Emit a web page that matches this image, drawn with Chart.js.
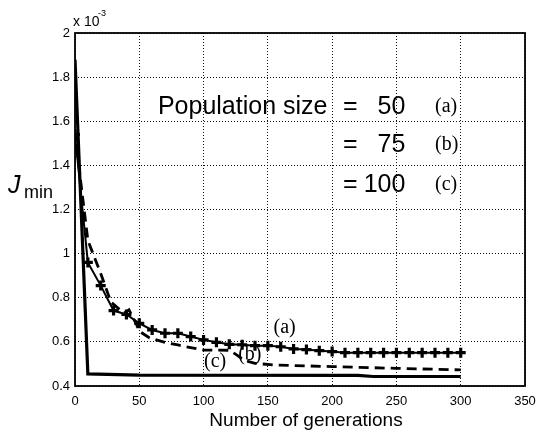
<!DOCTYPE html>
<html>
<head>
<meta charset="utf-8">
<script src="https://cdn.jsdelivr.net/npm/chart.js@4.4.1/dist/chart.umd.min.js"></script>
<style>
  html, body { margin: 0; padding: 0; background: #fff; }
  #wrap { position: relative; width: 536px; height: 436px; }
</style>
</head>
<body>
<div id="wrap"><canvas id="chart" width="536" height="436"></canvas></div>
<script>
// J_min values are in units of 1e-3 (axis carries the "x 10^-3" factor)

// (a) population size 50, plus markers every 10 generations
const gensA = [0, 10, 20, 30, 40, 50, 60, 70, 80, 90, 100, 110, 120, 130, 140, 150,
               160, 170, 180, 190, 200, 210, 220, 230, 240, 250, 260, 270, 280, 290, 300];
const jminA = [1.54, 0.96, 0.855, 0.742, 0.724, 0.684, 0.654, 0.639, 0.639, 0.624, 0.609,
               0.598, 0.589, 0.587, 0.583, 0.583, 0.578, 0.568, 0.565, 0.560, 0.556,
               0.551, 0.551, 0.551, 0.551, 0.551, 0.551, 0.551, 0.551, 0.551, 0.551];

// (b) population size 75, dashed
const gensB = [0, 5, 10, 20, 28, 38, 42, 48, 50, 58, 70, 80, 90, 100, 120, 126, 132, 140, 155, 200, 250, 300];
const jminB = [1.55, 1.30, 1.06, 0.91, 0.78, 0.73, 0.745, 0.677, 0.648, 0.618, 0.598, 0.586,
               0.574, 0.563, 0.562, 0.54, 0.515, 0.503, 0.495, 0.488, 0.480, 0.473];

// (c) population size 100, thick solid
const gensC = [0, 10, 50, 220, 232, 300];
const jminC = [1.88, 0.455, 0.449, 0.448, 0.443, 0.443];

const xTicks = [0, 50, 100, 150, 200, 250, 300, 350];
const yTicks = [0.4, 0.6, 0.8, 1, 1.2, 1.4, 1.6, 1.8, 2];

const legendRows = [
    { eq: '=', size: '50', tag: '(a)' },
    { eq: '=', size: '75', tag: '(b)' },
    { eq: '=', size: '100', tag: '(c)' }
];
const curveTags = [
    { text: '(a)', x: 163, y: 0.663 },
    { text: '(b)', x: 136, y: 0.541 },
    { text: '(c)', x: 109, y: 0.509 }
];

const SANS = '"Liberation Sans", Arial, sans-serif';
const SERIF = '"Liberation Serif", "Times New Roman", serif';

const toPoints = (xs, ys) => xs.map((x, i) => ({ x, y: ys[i] }));

// frame box + all the free text (MATLAB style)
const decorations = {
    id: 'decorations',
    afterDraw(chart) {
        const { ctx, chartArea: a, scales: { x, y } } = chart;
        ctx.save();

        ctx.strokeStyle = '#000';
        ctx.lineWidth = 1.8;
        ctx.strokeRect(a.left, a.top, a.right - a.left, a.bottom - a.top);

        ctx.fillStyle = '#000';
        ctx.textBaseline = 'middle';

        // exponent label
        ctx.textAlign = 'left';
        ctx.font = '14px ' + SANS;
        ctx.fillText('x 10', a.left - 2, 22);
        ctx.font = '9px ' + SANS;
        ctx.fillText('-3', a.left + 23, 14);

        // y title J_min
        ctx.font = 'italic 25px ' + SANS;
        ctx.fillText('J', 8, 186);
        ctx.font = '18px ' + SANS;
        ctx.fillText('min', 24, 193);

        // x title
        ctx.textAlign = 'center';
        ctx.font = '19px ' + SANS;
        ctx.fillText('Number of generations', 306, 421);

        // population size block
        const rowY = [1.665, 1.492, 1.311];
        ctx.font = '25px ' + SANS;
        ctx.textAlign = 'left';
        ctx.fillText('Population size', x.getPixelForValue(64.5), y.getPixelForValue(rowY[0]));
        legendRows.forEach((row, i) => {
            const py = y.getPixelForValue(rowY[i]);
            ctx.font = '25px ' + SANS;
            ctx.textAlign = 'left';
            ctx.fillText(row.eq, x.getPixelForValue(208.5), py);
            ctx.textAlign = 'right';
            ctx.fillText(row.size, x.getPixelForValue(257), py);
            ctx.font = '20px ' + SERIF;
            ctx.textAlign = 'left';
            ctx.fillText(row.tag, x.getPixelForValue(280), py);
        });

        // curve tags
        ctx.font = '20px ' + SERIF;
        ctx.textAlign = 'center';
        curveTags.forEach(t => {
            ctx.fillText(t.text, x.getPixelForValue(t.x), y.getPixelForValue(t.y));
        });

        ctx.restore();
    }
};

new Chart(document.getElementById('chart'), {
    type: 'line',
    data: {
        datasets: [
            {
                label: 'Population size = 50',
                data: toPoints(gensA, jminA),
                borderColor: '#000',
                backgroundColor: '#000',
                borderWidth: 2,
                pointStyle: 'cross',
                pointRadius: 5,
                pointBorderWidth: 3.2,
                pointBorderColor: '#000'
            },
            {
                label: 'Population size = 75',
                data: toPoints(gensB, jminB),
                borderColor: '#000',
                borderWidth: 2.8,
                borderDash: [10, 6],
                pointRadius: 0
            },
            {
                label: 'Population size = 100',
                data: toPoints(gensC, jminC),
                borderColor: '#000',
                borderWidth: 3.2,
                pointRadius: 0
            }
        ]
    },
    options: {
        responsive: false,
        animation: false,
        layout: { padding: { top: 33, right: 0, left: 0, bottom: 0 } },
        plugins: {
            legend: { display: false },
            tooltip: { enabled: false }
        },
        scales: {
            x: {
                type: 'linear',
                min: 0,
                max: 350,
                afterFit: s => { s.height = 50; s.paddingRight = 11; },
                afterBuildTicks: s => { s.ticks = xTicks.map(v => ({ value: v })); },
                grid: { color: '#111', lineWidth: 1, drawTicks: false },
                border: { display: false, dash: [1, 2] },
                ticks: {
                    color: '#000',
                    padding: 8,
                    maxRotation: 0,
                    font: { family: SANS, size: 13 }
                }
            },
            y: {
                type: 'linear',
                min: 0.4,
                max: 2,
                afterFit: s => { s.width = 75; },
                afterBuildTicks: s => { s.ticks = yTicks.map(v => ({ value: v })); },
                grid: { color: '#111', lineWidth: 1, drawTicks: false },
                border: { display: false, dash: [1, 2] },
                ticks: {
                    color: '#000',
                    padding: 5,
                    font: { family: SANS, size: 13 },
                    callback: v => String(Number(v.toFixed(1)))
                }
            }
        }
    },
    plugins: [decorations]
});
</script>
</body>
</html>
